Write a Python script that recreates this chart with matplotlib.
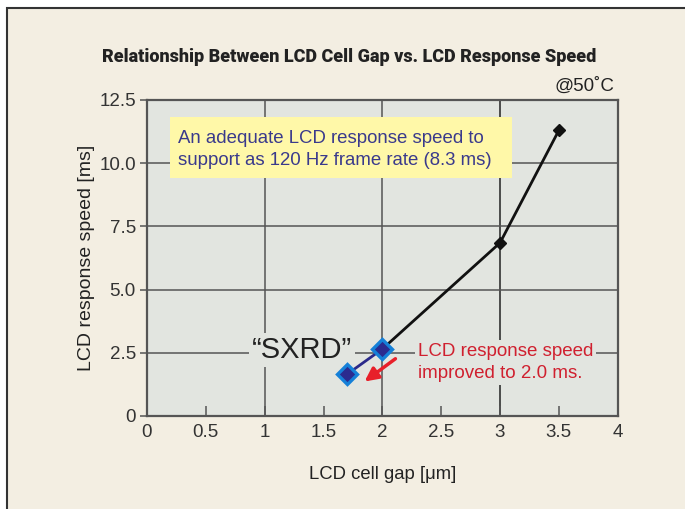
import matplotlib
matplotlib.use("Agg")
import matplotlib.pyplot as plt
from matplotlib.patches import Rectangle

gap = [2.0, 3.0, 3.5]
speed = [2.65, 6.85, 11.3]
sxrd_gap = [1.7, 2.0]
sxrd_speed = [1.65, 2.65]
xticks = [0, 0.5, 1, 1.5, 2, 2.5, 3, 3.5, 4]
xtick_labels = ["0", "0.5", "1", "1.5", "2", "2.5", "3", "3.5", "4"]
yticks = [0, 2.5, 5.0, 7.5, 10.0, 12.5]
ytick_labels = ["0", "2.5", "5.0", "7.5", "10.0", "12.5"]

plt.rcParams["font.family"] = ["Liberation Sans", "DejaVu Sans"]

BG = "#F3EEE2"
PLOT = "#E2E5E0"
W, H = 685, 509

fig = plt.figure(figsize=(W/100, H/100), dpi=100)
fig.patch.set_facecolor("white")
frame = Rectangle((7/W, -0.2), 1.2, 1 - 8/H + 0.2, transform=fig.transFigure,
                  facecolor=BG, edgecolor="#333333", lw=1.5, zorder=-10)
fig.patches.append(frame)

ax = fig.add_axes([147/W, 1 - 416/H, (617.7 - 147)/W, (416 - 100)/H])
ax.set_facecolor(PLOT)
ax.set_xlim(0, 4)
ax.set_ylim(0, 12.5)

for x in [1, 2, 3]:
    ax.axvline(x, color="#555555" if x != 3 else "#222222", lw=1.1, zorder=1)
for y in [2.5, 5.0, 7.5, 10.0]:
    ax.axhline(y, color="#555555", lw=1.1, zorder=1)

ax.set_xticks(xticks)
ax.set_xticklabels(xtick_labels)
ax.set_yticks(yticks)
ax.set_yticklabels(ytick_labels)
ax.tick_params(axis="x", direction="in", length=7, width=1.1, color="#555555",
               labelsize=13.5, labelcolor="#333333", pad=6)
ax.tick_params(axis="y", direction="out", length=5, width=1.1, color="#555555",
               labelsize=13.5, labelcolor="#333333", pad=3)
for s in ax.spines.values():
    s.set_color("#555555")
    s.set_linewidth(1.6)

ax.plot(gap, speed, color="#111111", lw=2, marker="D", markersize=6,
        markerfacecolor="#111111", markeredgecolor="#111111", zorder=4)
ax.plot(sxrd_gap, sxrd_speed, color="#2A2A8A", lw=2, marker="D", markersize=10,
        markerfacecolor="#2B2B8F", markeredgecolor="#1580D8", markeredgewidth=2.4, zorder=5)

ax.annotate("", xy=(1.83, 1.3), xytext=(2.13, 2.33),
            arrowprops=dict(arrowstyle="-|>,head_length=0.8,head_width=0.4",
                            color="#E8202A", lw=2.5), zorder=6)

ax.text(1.32, 2.62, "\u201cSXRD\u201d", fontsize=21, color="#222222", ha="center", va="center",
        bbox=dict(facecolor=PLOT, edgecolor="none", pad=2), zorder=3)
ax.text(2.30, 2.12, "LCD response speed\nimproved to 2.0 ms.", fontsize=13.5, color="#D0202F",
        ha="left", va="center", linespacing=1.4,
        bbox=dict(facecolor=PLOT, edgecolor="none", pad=2), zorder=3)
box = Rectangle((0.195, 9.41), 3.1 - 0.195, 11.83 - 9.41, facecolor="#FFF8A8",
                edgecolor="none", zorder=2)
ax.add_patch(box)
ax.text(0.263, 10.55, "An adequate LCD response speed to\nsupport as 120 Hz frame rate (8.3 ms)",
        fontsize=13.4, color="#3A3A8C", ha="left", va="center", linespacing=1.4, zorder=3)

fig.text(614/W, 1 - 86/H, "@50\u02daC", fontsize=13.5, color="#222222", ha="right", va="center")
fig.text(349/W, 1 - 57/H, "Relationship Between LCD Cell Gap vs. LCD Response Speed",
         fontsize=13, fontweight=900, family=["Roboto", "DejaVu Sans"],
         color="#222222", ha="center", va="center")
ax.set_xlabel("LCD cell gap [\u03bcm]", fontsize=13.3, color="#222222", labelpad=18)
ax.set_ylabel("LCD response speed [ms]", fontsize=14, color="#222222", labelpad=3)

fig.savefig("out.png", dpi=100, facecolor=fig.get_facecolor())
